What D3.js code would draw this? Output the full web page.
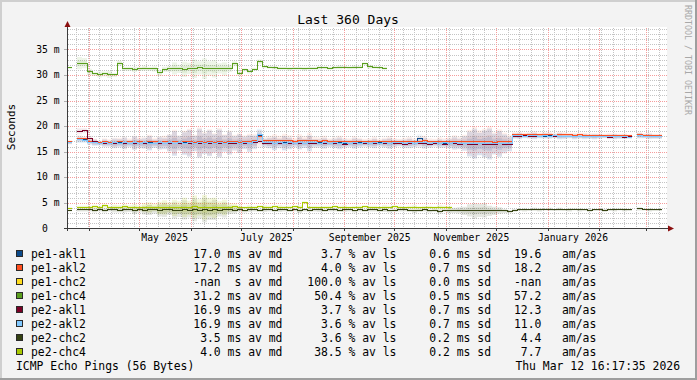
<!DOCTYPE html>
<html><head><meta charset="utf-8">
<script src="https://cdn.jsdelivr.net/npm/d3@7"></script>
<style>
html,body{margin:0;padding:0;background:#f3f3f3;}
svg{display:block;font-family:"DejaVu Sans Mono",monospace;}
text{white-space:pre;}
</style></head><body>
<svg id="c" width="697" height="380"></svg>
<script>
// ---------------- data ----------------
const chartTitle = "Last 360 Days";
const yAxisTitle = "Seconds";
const footerLeft = "ICMP Echo Pings (56 Bytes)";
const footerRight = "Thu Mar 12 16:17:35 2026";
const watermark = "RRDTOOL / TOBI OETIKER";
const startTime = new Date(Date.UTC(2025, 2, 18, 16, 17));
const endTime = new Date(Date.UTC(2026, 2, 13, 16, 17));
const binDays = 3;        // one value per 3 days

const yTickValues = [0, 5, 10, 15, 20, 25, 30, 35];
const yTickLabels = ["0  ", "5 m", "10 m", "15 m", "20 m", "25 m", "30 m", "35 m"];
const monthLabelDates = ["2025-05-01", "2025-07-01", "2025-09-01", "2025-11-01", "2026-01-01"];
const monthLabels = ["May 2025", "July 2025", "September 2025", "November 2025", "January 2026"];

const seriesNames = ["pe1-akl1", "pe1-akl2", "pe1-chc2", "pe1-chc4", "pe2-akl1", "pe2-akl2", "pe2-chc2", "pe2-chc4"];
const seriesColors = ["#0b4a8a", "#ff4f1f", "#ffdc1e", "#5a9e1e", "#7a0026", "#80c8ff", "#354212", "#a8c800"];
const smokeOpacity = [0.05, 0.09, 0.1, 0.1, 0.06, 0.14, 0.12, 0.14];
const avgMedian = [17.0, 17.2, NaN, 31.2, 16.9, 16.9, 3.5, 4.0];
const avgLoss = [3.7, 4.0, 100.0, 50.4, 3.7, 3.6, 3.6, 38.5];
const avgSd = [0.6, 0.7, 0.0, 0.5, 0.7, 0.7, 0.2, 0.2];
const amas = [19.6, 18.2, NaN, 57.2, 12.3, 11.0, 4.4, 7.7];

// median ping (ms), one value per 3-day bin, null = no data
const pe1_akl1 = [
16.8,null,17.4,17.3,16.9,16.7,16.6,16.7,16.6,16.6,
16.7,16.6,16.6,16.7,16.6,16.6,16.7,16.6,16.6,16.6,
16.7,16.6,16.6,16.7,16.6,16.6,16.7,16.6,16.6,16.7,
16.6,16.6,16.7,16.6,16.6,16.7,16.6,16.8,18.1,16.7,
16.7,16.6,16.6,16.7,16.6,16.6,16.7,16.6,16.6,16.6,
16.7,16.6,16.6,16.6,16.7,16.6,16.6,16.6,16.7,16.6,
16.6,16.6,16.7,16.6,16.6,16.6,16.7,16.6,16.6,16.6,
17.6,16.6,16.5,16.6,16.6,16.5,16.6,16.6,16.5,16.6,
16.5,16.6,16.5,16.5,16.6,16.5,16.5,16.6,16.5,18.0,
18.0,18.0,18.1,18.0,18.0,18.0,18.1,18.0,18.0,18.0,
18.0,17.9,18.0,17.9,17.9,17.9,18.0,17.9,17.9,17.9,
17.9,17.9,17.8,null,18.1,18.0,18.0,17.9,17.9,null];
const pe1_akl2 = [
16.9,null,17.6,17.5,17.0,16.9,16.8,16.9,16.8,16.8,
16.9,16.8,16.9,16.8,16.9,16.8,16.9,16.9,16.8,17.0,
16.8,16.9,16.8,16.9,16.9,16.8,16.9,16.8,16.9,16.8,
16.9,16.8,16.9,16.9,16.8,17.0,16.9,17.2,18.0,17.1,
17.1,17.1,17.2,17.1,17.1,17.0,17.2,17.1,17.2,17.1,
17.0,17.1,16.9,16.9,17.0,16.9,16.9,17.0,16.9,16.9,
16.9,17.0,16.9,16.9,17.0,16.9,16.9,16.9,17.0,16.9,
17.0,17.1,16.9,16.9,17.0,16.9,16.9,17.0,16.9,16.9,
16.9,16.9,17.0,16.9,16.9,16.8,16.9,16.9,16.9,18.3,
18.3,18.3,18.3,18.4,18.3,18.3,18.3,18.2,18.3,18.3,
18.3,18.2,18.3,18.2,18.2,18.1,18.2,18.2,18.2,18.1,
18.1,18.2,18.1,null,18.3,18.2,18.2,18.1,18.1,null];
const pe1_chc2 = [];
const pe1_chc4 = [
31.4,null,32.3,32.3,30.6,30.2,30.1,30.2,30.1,30.0,
32.3,31.2,31.2,31.1,31.2,31.3,31.2,31.2,30.4,31.1,
31.2,31.3,31.2,31.1,31.3,31.2,31.4,31.2,31.3,31.2,
31.3,31.2,31.3,32.2,30.3,31.0,30.7,31.1,32.6,31.6,
31.5,31.4,31.3,31.3,31.2,31.3,31.3,31.2,31.3,31.3,
31.4,31.4,31.3,31.4,31.5,31.5,31.4,31.5,31.5,32.2,
31.6,31.5,31.4,31.3];
const pe2_akl1 = [
16.7,null,19.0,19.1,17.6,16.9,16.6,16.6,16.5,16.5,
16.6,16.5,16.5,16.6,16.5,16.5,16.6,16.5,16.5,16.5,
16.5,16.6,16.5,16.5,16.6,16.5,16.5,16.5,16.6,16.5,
16.5,16.6,16.5,16.5,16.5,16.6,16.5,16.7,17.0,16.6,
16.6,16.5,16.5,16.6,16.5,16.5,16.5,16.6,16.5,16.5,
16.5,16.5,16.6,16.5,16.5,16.4,16.5,16.5,16.6,16.5,
16.5,16.5,16.5,16.6,16.5,16.5,16.5,16.4,16.5,16.5,
16.5,16.5,16.4,16.5,16.5,16.4,16.5,16.5,16.4,16.5,
16.4,16.4,16.5,16.4,16.4,16.4,16.5,16.4,16.4,18.0,
18.0,18.1,18.0,18.0,18.0,18.1,18.0,18.0,18.0,17.9,
18.0,17.9,17.9,18.0,17.9,17.9,17.9,17.9,17.8,17.9,
17.9,17.8,17.9,null,18.1,18.0,17.9,17.9,17.9,null];
const pe2_akl2 = [
16.8,null,17.3,17.2,16.8,16.7,16.6,16.7,16.6,16.7,
16.6,16.7,16.6,16.7,16.6,16.7,16.6,16.6,16.7,16.6,
16.7,16.6,16.7,16.6,16.7,16.6,16.7,16.6,16.7,16.6,
16.7,16.6,16.7,16.7,16.6,16.7,16.6,16.9,18.3,16.8,
16.7,16.6,16.7,16.6,16.7,16.6,16.7,16.6,16.7,16.7,
16.6,16.7,16.6,16.7,16.6,16.7,16.6,16.7,16.6,16.7,
16.6,16.7,16.6,16.7,16.6,16.7,16.7,16.6,16.7,16.6,
16.7,16.8,16.6,16.7,16.6,16.7,16.6,16.7,16.6,16.6,
16.5,16.6,16.5,16.6,16.5,16.6,16.5,16.6,16.5,18.1,
18.1,18.0,18.1,18.1,18.0,18.1,18.0,18.1,18.0,18.0,
18.0,17.9,18.0,17.9,17.9,17.9,17.9,18.0,17.9,17.9,
17.9,17.9,17.8,null,18.1,18.0,18.0,17.9,17.9,null];
const pe2_chc2 = [
3.5,null,3.6,3.6,3.6,3.5,3.6,3.5,3.6,3.6,
3.5,3.6,3.6,3.4,3.6,3.5,3.6,3.6,3.5,3.6,
3.6,3.5,3.4,3.6,3.5,3.6,3.5,3.6,3.4,3.6,
3.5,3.6,3.6,3.5,3.6,3.4,3.6,3.6,3.5,3.6,
3.6,3.5,3.6,3.6,3.5,3.6,3.4,3.6,3.5,3.6,
3.6,3.5,3.6,3.6,3.5,3.6,3.6,3.4,3.6,3.5,
3.6,3.6,3.5,3.6,3.4,3.5,3.6,3.6,3.5,3.4,
3.5,3.6,3.4,3.5,3.3,3.5,3.4,3.5,3.5,3.4,
3.5,3.4,3.5,3.5,3.4,3.4,3.5,3.4,3.3,3.5,
3.6,3.6,3.6,3.7,3.6,3.7,3.7,3.6,3.7,3.6,
3.6,3.7,3.6,3.6,3.5,3.6,3.6,3.5,3.6,3.6,
3.7,3.6,3.6,null,3.8,3.7,3.6,3.6,3.6,null];
const pe2_chc4 = [
3.9,null,4.1,4.1,4.1,4.2,4.1,4.4,4.1,4.1,
4.1,4.2,4.1,4.1,4.0,4.1,4.1,4.1,4.0,4.1,
4.1,4.0,4.1,4.1,4.0,4.2,4.1,4.1,4.1,4.0,
4.1,4.1,4.1,4.2,4.1,4.0,4.1,4.1,4.2,4.1,
4.1,4.2,4.1,4.1,4.1,4.2,4.1,5.0,4.1,4.1,
4.0,4.1,4.1,4.2,4.1,4.1,4.0,4.1,4.1,4.2,
4.1,4.1,4.0,4.1,4.1,4.2,4.1,4.0,4.1,4.1,
4.0,4.1,4.1,4.0,4.1,4.1,4.0];

// smoke half-spread (ms), one value per 3-day bin
const aklSmoke = [
0.3,0,0.6,0.5,0.5,0.6,0.4,0.7,0.6,0.9,
0.8,1.1,0.7,1.3,0.9,1.0,1.4,0.8,1.2,1.1,
1.6,2.4,1.4,2.2,2.6,1.5,2.8,2.0,2.5,1.8,
2.7,1.6,2.2,1.4,1.8,1.2,1.6,1.3,1.2,0.8,
1.0,1.3,0.9,1.4,1.1,0.7,1.2,0.9,1.5,0.8,
0.8,1.0,0.7,0.9,1.1,0.8,0.7,1.0,0.8,0.6,
0.7,0.9,0.6,0.8,1.0,0.7,0.6,0.8,0.9,0.7,
0.8,1.0,0.7,0.6,0.8,0.7,0.9,1.2,1.0,1.4,
2.4,2.9,2.2,2.6,3.0,2.0,2.5,1.8,1.4,0.5,
0.6,0.4,0.5,0.6,0.4,0.5,0.5,0.4,0.6,0.5,
0.4,0.5,0.4,0.5,0.4,0.5,0.4,0.3,0.4,0.5,
0.4,0.4,0.3,0,0.5,0.4,0.5,0.4,0.4,0.3];
const chcSmoke = [
0.2,0,0.3,0.3,0.3,0.4,0.3,0.4,0.3,0.5,
0.4,0.5,0.4,0.6,0.5,0.8,1.0,0.7,1.2,1.4,
1.0,1.6,1.2,1.9,1.4,2.2,1.6,2.4,1.8,2.0,
1.2,1.5,0.8,0.6,0.4,0.3,0.4,0.3,0.3,0.4,
0.3,0.3,0.4,0.3,0.3,0.3,0.4,0.3,0.3,0.3,
0.4,0.3,0.3,0.3,0.3,0.4,0.3,0.3,0.3,0.3,
0.3,0.3,0.3,0.4,0.3,0.3,0.3,0.3,0.3,0.4,
0.3,0.3,0.3,0.3,0.4,0.3,0.4,0.5,0.6,0.8,
1.2,1.5,1.3,1.4,1.0,0.8,0.6,0.4,0.3,0.3,
0.2,0.3,0.2,0.3,0.3,0.2,0.3,0.2,0.3,0.2,
0.3,0.2,0.3,0.2,0.3,0.2,0.2,0.3,0.2,0.3,
0.2,0.3,0.2,0,0.3,0.2,0.3,0.2,0.2,0.2];
const chc4Smoke = [
0.2,0,1.2,1.0,0.6,0.4,0.6,0.5,0.7,0.4,
0.5,0.4,0.4,0.5,0.4,0.5,0.4,0.5,0.6,0.5,
0.6,1.2,0.8,1.5,1.1,1.8,1.3,2.0,1.4,1.7,
1.0,1.3,0.7,0.5,0.4,0.3,0.4,0.3,0.4,0.3,
0.3,0.4,0.3,0.3,0.4,0.3,0.3,0.4,0.3,0.3,
0.4,0.3,0.3,0.3,0.4,0.3,0.3,0.4,0.3,0.3,
0.4,0.3,0.3,0.3];

const seriesValues = [pe1_akl1, pe1_akl2, pe1_chc2, pe1_chc4, pe2_akl1, pe2_akl2, pe2_chc2, pe2_chc4];
const seriesSmoke = [aklSmoke, aklSmoke, chcSmoke, chc4Smoke, aklSmoke, aklSmoke, chcSmoke, chcSmoke];

// ---------------- drawing ----------------
const W = 697, H = 380;
const L = 67, R = 667, T = 27, B = 228;
const svg = d3.select("#c");
const DAY = 86400000;

const x = d3.scaleUtc().domain([startTime, endTime]).range([L, R]);
const y = d3.scaleLinear().domain([0, 35]).range([228.3, 49.4]);
const yTop = y.invert(T + 1);

// dotted-line patterns (exact pixel dots)
const defs = svg.append("defs");
function dotPattern(id, color, horiz) {
  const p = defs.append("pattern").attr("id", id).attr("patternUnits", "userSpaceOnUse")
    .attr("x", 0).attr("y", 0).attr("width", horiz ? 2 : 1).attr("height", horiz ? 1 : 2);
  p.append("rect").attr("x", 0).attr("y", 0).attr("width", 1).attr("height", 1).attr("fill", color);
}
dotPattern("minH", "#c4c4c4", true);
dotPattern("minV", "#c4c4c4", false);
dotPattern("majH", "#f59c9c", true);
dotPattern("majV", "#f59c9c", false);

svg.append("rect").attr("width", W).attr("height", H).attr("fill", "#f3f3f3");
svg.append("rect").attr("x", 0).attr("y", 0).attr("width", W).attr("height", 2).attr("fill", "#cfcfcf");
svg.append("rect").attr("x", 0).attr("y", 0).attr("width", 2).attr("height", H).attr("fill", "#cfcfcf");
svg.append("rect").attr("x", 0).attr("y", H - 2).attr("width", W).attr("height", 2).attr("fill", "#9e9e9e");
svg.append("rect").attr("x", W - 2).attr("y", 0).attr("width", 2).attr("height", H).attr("fill", "#9e9e9e");

svg.append("rect").attr("x", L).attr("y", T).attr("width", R - L).attr("height", B - T).attr("fill", "#ffffff");

const px = v => Math.round(v);
const grid = svg.append("g").attr("shape-rendering", "crispEdges");
// minor horizontal grid
d3.range(1, Math.floor(yTop) + 1).filter(v => v % 5 !== 0).forEach(v => {
  grid.append("rect").attr("x", L).attr("width", R - L).attr("y", px(y(v))).attr("height", 1).attr("fill", "url(#minH)");
});
// minor vertical grid (weekly)
const months = d3.utcMonth.range(startTime, endTime);
const monthKeys = new Set(months.map(d => d3.utcDay.floor(d).getTime()));
d3.utcMonday.range(startTime, endTime).filter(d => !monthKeys.has(d.getTime())).forEach(d => {
  grid.append("rect").attr("x", px(x(d))).attr("width", 1).attr("y", T).attr("height", B - T).attr("fill", "url(#minV)");
});
// major grid
yTickValues.filter(v => v > 0).forEach(v => {
  grid.append("rect").attr("x", L).attr("width", R - L).attr("y", px(y(v))).attr("height", 1).attr("fill", "url(#majH)");
});
months.forEach(d => {
  grid.append("rect").attr("x", px(x(d))).attr("width", 1).attr("y", T).attr("height", B - T).attr("fill", "url(#majV)");
});

// data
const binTime = i => new Date(startTime.getTime() + i * binDays * DAY);
function runs(vals) {
  const out = []; let cur = null;
  vals.forEach((v, i) => {
    if (v == null) { if (cur) { out.push(cur); cur = null; } }
    else { if (!cur) cur = []; cur.push({ i, v }); }
  });
  if (cur) out.push(cur);
  return out;
}
const smokeArea = d3.area().curve(d3.curveStepAfter)
  .x(d => x(d.t)).y0(d => y(d.lo)).y1(d => y(d.hi));
const smokeG = svg.append("g");
seriesValues.forEach((vals, si) => {
  const sm = seriesSmoke[si];
  runs(vals).forEach(run => {
    const pts = run.map(d => ({ t: binTime(d.i), s: sm[d.i] || 0.2, v: d.v }));
    const last = pts[pts.length - 1];
    pts.push({ t: binTime(run[run.length - 1].i + 1), s: last.s, v: last.v });
    [1.0, 0.45].forEach((k, li) => {
      smokeG.append("path")
        .datum(pts.map(p => ({ t: p.t, lo: p.v - p.s * k, hi: p.v + p.s * k })))
        .attr("d", smokeArea).attr("fill", seriesColors[si]).attr("fill-opacity", smokeOpacity[si]);
    });
  });
});
const line = d3.line().curve(d3.curveStepAfter).x(d => x(d.t)).y(d => y(d.v));
const lineG = svg.append("g").attr("shape-rendering", "crispEdges");
seriesValues.forEach((vals, si) => {
  runs(vals).forEach(run => {
    const pts = run.map(d => ({ t: binTime(d.i), v: d.v }));
    pts.push({ t: binTime(run[run.length - 1].i + 1), v: run[run.length - 1].v });
    lineG.append("path").datum(pts).attr("d", line).attr("fill", "none")
      .attr("stroke", seriesColors[si]).attr("stroke-width", 1);
  });
});

// axes lines, ticks and arrows
const axisColor = "#3b3b3b", arrowColor = "#8b1010";
const ax = svg.append("g").attr("shape-rendering", "crispEdges");
ax.append("line").attr("x1", L + 0.5).attr("x2", L + 0.5).attr("y1", 26).attr("y2", B + 3).attr("stroke", axisColor);
ax.append("line").attr("x1", L - 3).attr("x2", 668).attr("y1", B + 0.5).attr("y2", B + 0.5).attr("stroke", axisColor);
months.forEach(d => {
  ax.append("line").attr("x1", px(x(d)) + 0.5).attr("x2", px(x(d)) + 0.5).attr("y1", B).attr("y2", B + 3).attr("stroke", axisColor);
});
yTickValues.filter(v => v > 0).forEach(v => {
  ax.append("line").attr("x1", L - 3).attr("x2", L).attr("y1", px(y(v)) + 0.5).attr("y2", px(y(v)) + 0.5).attr("stroke", "#b0b0b0");
});
svg.append("path").attr("d", `M${L + 0.5},21 L${L + 3.5},27 L${L - 2.5},27 Z`).attr("fill", arrowColor);
svg.append("path").attr("d", `M674,${B + 0.5} L668,${B + 3.5} L668,${B - 2.5} Z`).attr("fill", arrowColor);

// y axis labels, placed with the y scale
const yl = svg.append("g").attr("font-size", 9.7).attr("text-anchor", "end");
yTickValues.forEach((v, i) => {
  yl.append("text").attr("x", 59.5).attr("y", y(v)).attr("dy", "0.34em")
    .attr("fill", "#000000").text(yTickLabels[i]);
});

// x axis labels (centered half a month after the month start)
const labelTimes = monthLabelDates.map(s => new Date(new Date(s + "T00:00:00Z").getTime() + 15 * DAY));
const xAxis = d3.axisBottom(x).tickValues(labelTimes).tickSize(0).tickPadding(6)
  .tickFormat((d, i) => monthLabels[i]);
const xg = svg.append("g").attr("transform", `translate(0,${B})`).attr("color", "#000").call(xAxis);
xg.select(".domain").remove();
xg.selectAll("line").remove();
xg.selectAll("text").attr("font-family", "DejaVu Sans Mono").attr("font-size", 9.7).style("fill", "#000");

// titles
svg.append("text").attr("x", 348).attr("y", 24).attr("text-anchor", "middle")
  .attr("font-size", 13).attr("fill", "#000").text(chartTitle);
svg.append("text").attr("transform", "translate(14.5,127) rotate(-90)").attr("text-anchor", "middle")
  .attr("font-size", 11).attr("fill", "#000").text(yAxisTitle);
svg.append("text").attr("transform", "translate(685,5) rotate(90)")
  .attr("font-size", 8.3).attr("fill", "#a8a8a8").text(watermark);

// legend
const fmt = (v, w) => { const s = isNaN(v) ? "-nan" : v.toFixed(1); return s.padStart(w, " "); };
const lg = svg.append("g").attr("font-size", 11.4).attr("fill", "#000");
seriesNames.forEach((n, i) => {
  const by = 258 + 14 * i;
  lg.append("rect").attr("x", 16.5).attr("y", by - 7.5).attr("width", 6).attr("height", 6)
    .attr("fill", seriesColors[i]).attr("stroke", "#2a2a2a").attr("shape-rendering", "crispEdges");
  lg.append("text").attr("x", 31).attr("y", by).text(n);
  lg.append("text").attr("x", 193.3).attr("y", by)
    .text(isNaN(avgMedian[i]) ? "-nan  s av md" : fmt(avgMedian[i], 4) + " ms av md");
  lg.append("text").attr("x", 307.3).attr("y", by).text(fmt(avgLoss[i], 5) + " % av ls");
  lg.append("text").attr("x", 429.3).attr("y", by).text(fmt(avgSd[i], 3) + " ms sd");
  lg.append("text").attr("x", 514).attr("y", by).text(fmt(amas[i], 4) + "   am/as");
});
lg.append("text").attr("x", 16).attr("y", 370).text(footerLeft);
lg.append("text").attr("x", 680).attr("y", 370).attr("text-anchor", "end").text(footerRight);
</script>
</body></html>
